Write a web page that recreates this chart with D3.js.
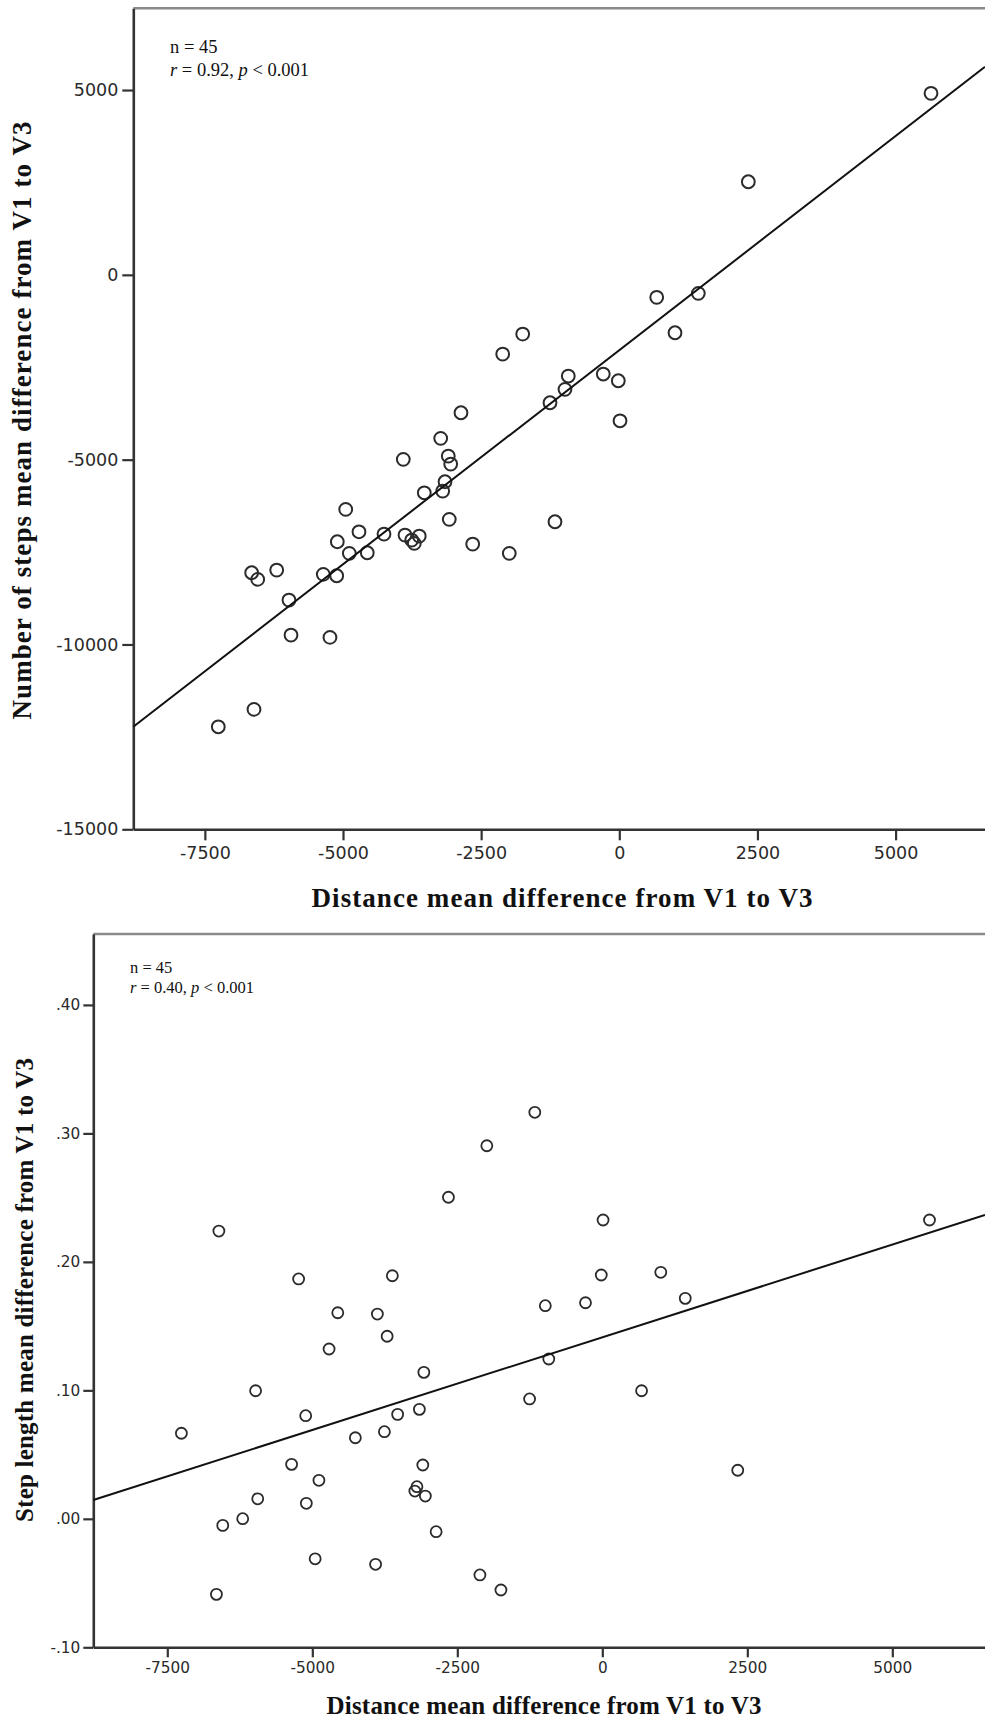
<!DOCTYPE html>
<html>
<head>
<meta charset="utf-8">
<script src="https://cdn.jsdelivr.net/npm/d3@7"></script>
<style>
  html, body { margin: 0; padding: 0; background: #fff; }
  svg { display: block; }
  .title { font-family: "Liberation Serif", "Times New Roman", serif; font-weight: bold; fill: #111; }
  .note { font-family: "Liberation Serif", "Times New Roman", serif; fill: #111; }
</style>
</head>
<body>
<svg id="chart" width="985" height="1720"></svg>
<script>
// Two SPSS-style scatter plots sharing the same 45 subjects on the x axis.

const distance = [
  -3232, -3909, -3095, -3051, -3154, -3196, -3529, -4951, -3077, -4711,
  -4258, -3878, -3620, -3757, -3710, -5103, -4886, -4561, -2653, -6653,
  -6544, -6200, -5357, -5114, -5978, -5941, -5236, -6611, -7257, -1164,
  -1991, 5641, 2335, 677, 1430, 1008, -1748, -2110, -923, -983,
  -1254, -290, -18, 13, -2865,
];
const steps = [
  -4424, -4992, -4903, -5119, -5598, -5850, -5896, -6345, -6615, -6951,
  -7013, -7040, -7067, -7175, -7265, -7221, -7535, -7519, -7284, -8060,
  -8239, -7987, -8103, -8141, -8799, -9746, -9808, -11756, -12227, -6680,
  -7535, 4911, 2519, -609, -501, -1567, -1602, -2143, -2738, -3098,
  -3460, -2684, -2865, -3948, -3731,
];
const step_length = [
  0.0216, -0.0354, 0.0419, 0.0177, 0.0852, 0.0250, 0.0813, -0.0311, 0.1140, 0.1322,
  0.0631, 0.1594, 0.1892, 0.0678, 0.1421, 0.0121, 0.0300, 0.1604, 0.2503, -0.0588,
  -0.0051, 0.0001, 0.0424, 0.0803, 0.0997, 0.0156, 0.1867, 0.2240, 0.0666, 0.3164,
  0.2904, 0.2326, 0.0378, 0.0997, 0.1716, 0.1919, -0.0554, -0.0437, 0.1244, 0.1659,
  0.0933, 0.1682, 0.1898, 0.2326, -0.0100,
];

const distance_ticks = [-7500, -5000, -2500, 0, 2500, 5000];
const steps_ticks = [-15000, -10000, -5000, 0, 5000];
const length_ticks = [-0.10, 0.00, 0.10, 0.20, 0.30, 0.40];

// fitted lines as drawn in the figure: [intercept, slope]
const steps_fit = [-2037, 1.1586];
const length_fit = [0.1413, 0.000014431];

const sample_size = 45;
const r_values = ["0.92", "0.40"];
const p_text = "< 0.001";
const x_title = "Distance mean difference from V1 to V3";
const y_titles = ["Number of steps mean difference from V1 to V3", "Step length mean difference from V1 to V3"];

const svg = d3.select("#chart");

function short_decimal(value) {
  return d3.format(".2f")(value).replace("−", "-").replace(/^(-?)0\./, "$1.");
}

function draw_panel(panel) {
  const x = d3.scaleLinear().domain(panel.x_domain).range([panel.left, panel.right]);
  const y = d3.scaleLinear().domain(panel.y_domain).range([panel.bottom, panel.top]);
  const g = svg.append("g");

  // top edge of the plot frame is lighter than the axes
  g.append("line")
    .attr("x1", panel.left).attr("x2", panel.right)
    .attr("y1", panel.top).attr("y2", panel.top)
    .attr("stroke", "#8a8a8a")
    .attr("stroke-width", 2.4);

  const x_axis = g.append("g")
    .attr("transform", `translate(0,${panel.bottom})`)
    .call(d3.axisBottom(x)
      .tickValues(distance_ticks)
      .tickSize(panel.tick)
      .tickSizeOuter(0)
      .tickPadding(panel.x_pad)
      .tickFormat((value) => String(value)));
  const y_axis = g.append("g")
    .attr("transform", `translate(${panel.left},0)`)
    .call(d3.axisLeft(y)
      .tickValues(panel.y_ticks)
      .tickSize(panel.tick)
      .tickSizeOuter(0)
      .tickPadding(panel.y_pad)
      .tickFormat(panel.y_format));

  [x_axis, y_axis].forEach((axis) => {
    axis.attr("font-family", "'DejaVu Sans', sans-serif").attr("font-size", panel.tick_font);
    axis.select(".domain").attr("stroke", "#333").attr("stroke-width", 2.6);
    axis.selectAll(".tick line").attr("stroke", "#333").attr("stroke-width", 2.2);
    axis.selectAll(".tick text").attr("fill", "#2a2a2a");
  });

  g.append("g")
    .selectAll("circle")
    .data(d3.zip(distance, panel.values))
    .join("circle")
    .attr("cx", (d) => x(d[0]))
    .attr("cy", (d) => y(d[1]))
    .attr("r", panel.r)
    .attr("fill", "none")
    .attr("stroke", "#2b2b2b")
    .attr("stroke-width", panel.point_stroke);

  const fit_points = panel.x_domain.map((value) => [value, panel.fit[0] + panel.fit[1] * value]);
  g.append("path")
    .attr("d", d3.line().x((d) => x(d[0])).y((d) => y(d[1]))(fit_points))
    .attr("fill", "none")
    .attr("stroke", "#111")
    .attr("stroke-width", 2);

  // n and correlation note
  g.append("text")
    .attr("class", "note")
    .attr("x", panel.note_x)
    .attr("y", panel.note_y)
    .attr("font-size", panel.note_font)
    .text(`n = ${sample_size}`);
  const stat = g.append("text")
    .attr("class", "note")
    .attr("x", panel.note_x)
    .attr("y", panel.note_y + panel.note_gap)
    .attr("font-size", panel.note_font);
  stat.append("tspan").attr("font-style", "italic").text("r");
  stat.append("tspan").text(` = ${panel.r_value}, `);
  stat.append("tspan").attr("font-style", "italic").text("p");
  stat.append("tspan").text(` ${p_text}`);

  g.append("text")
    .attr("class", "title")
    .attr("x", panel.x_title[0])
    .attr("y", panel.x_title[1])
    .attr("text-anchor", "middle")
    .attr("font-size", panel.title_font)
    .attr("textLength", panel.x_title[2])
    .text(x_title);
  g.append("text")
    .attr("class", "title")
    .attr("transform", `translate(${panel.y_title[0]},${panel.y_title[1]}) rotate(-90)`)
    .attr("text-anchor", "middle")
    .attr("font-size", panel.title_font)
    .attr("textLength", panel.y_title[2])
    .text(panel.y_label);
}

draw_panel({
  values: steps,
  fit: steps_fit,
  y_ticks: steps_ticks,
  y_format: (value) => String(value),
  y_label: y_titles[0],
  r_value: r_values[0],
  left: 133.3, right: 985, top: 8.3, bottom: 829.3,
  x_domain: [-8795, 6618], y_domain: [-15000, 7211],
  tick: 11, tick_font: 17.5, x_pad: 6, y_pad: 4,
  r: 6.4, point_stroke: 2,
  note_x: 170, note_y: 53.3, note_gap: 22.7, note_font: 18.5,
  title_font: 27,
  x_title: [562, 907.3, 501],
  y_title: [31, 420.5, 598],
});

draw_panel({
  values: step_length,
  fit: length_fit,
  y_ticks: length_ticks,
  y_format: short_decimal,
  y_label: y_titles[1],
  r_value: r_values[1],
  left: 93.3, right: 985, top: 934, bottom: 1647.3,
  x_domain: [-8776, 6598], y_domain: [-0.10, 0.4552],
  tick: 10, tick_font: 15.3, x_pad: 5, y_pad: 3,
  r: 5.5, point_stroke: 1.8,
  note_x: 130, note_y: 973.3, note_gap: 20, note_font: 16.5,
  title_font: 25,
  x_title: [544, 1714, 435],
  y_title: [33, 1290, 464],
});
</script>
</body>
</html>
